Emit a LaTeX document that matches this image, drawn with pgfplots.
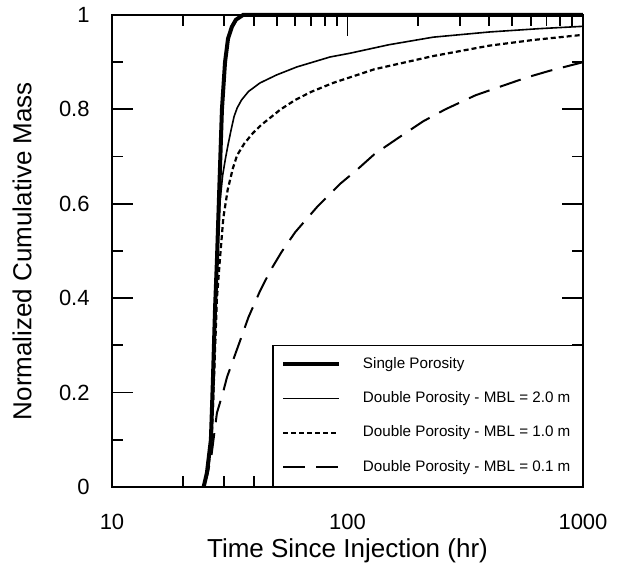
\documentclass[border=0pt]{standalone}
\usepackage{fontspec}
\setmainfont{Liberation Sans}
\usepackage{pgfplots}
\pgfplotsset{compat=1.18}

\begin{document}
\begin{tikzpicture}
\begin{axis}[
    at={(0pt,0pt)}, anchor=south west,
    width=235.5pt, height=236pt, scale only axis,
    xmode=log, xmin=10, xmax=1000, ymin=0, ymax=1,
    xtick={10,100,1000}, xticklabels={10,100,1000},
    minor xtick={20,30,40,50,60,70,80,90,200,300,400,500,600,700,800,900},
    ytick={0,0.2,0.4,0.6,0.8,1}, yticklabels={0,0.2,0.4,0.6,0.8,1},
    minor ytick={0.1,0.3,0.5,0.7,0.9},
    tick align=inside,
    major tick length=10.5pt, minor tick length=5.5pt,
    axis line style={line width=1pt},
    every tick/.style={black, line width=0.9pt},
    tick label style={font=\fontsize{11}{13}\selectfont, inner sep=0pt},
    xticklabel style={anchor=center, yshift=-17.5pt},
    yticklabel style={anchor=east, xshift=-11pt},
    /pgf/number format/assume math mode=true,
    xlabel={Time Since Injection (hr)},
    ylabel={Normalized Cumulative Mass},
    label style={font=\fontsize{13}{15}\selectfont},
    xlabel style={at={(axis description cs:0.5,-0.1356)}, anchor=center},
    ylabel style={at={(axis description cs:-0.191,0.5)}, anchor=center, rotate=0},
    clip=false,
    legend style={at={(rel axis cs:1,0)}, anchor=south east, draw=black,
        line width=0.6pt, font=\fontsize{7.6}{9}\selectfont,
        cells={anchor=west}, row sep=6.2pt, column sep=9pt,
        inner xsep=4pt, inner ysep=4pt},
    legend image code/.code={\draw[#1] (0pt,0pt) -- (28pt,0pt);},
]
\addplot[black, line width=2pt] coordinates {
    (24.5,0) (25.3,0.03) (26.3,0.1) (26.8,0.22) (27.4,0.38) (27.9,0.48)
    (28.5,0.62) (29.3,0.8) (30.2,0.9) (31.1,0.95) (32.3,0.975) (33.6,0.99)
    (36,1) (1000,1)
};
\addlegendentry{Single Porosity}
\addplot[black, line width=0.8pt] coordinates {
    (24.5,0) (25.3,0.03) (26.3,0.1) (26.9,0.22) (27.5,0.38) (28.1,0.5)
    (28.7,0.6) (29.5,0.66) (30.3,0.695) (31.1,0.725) (32,0.755) (33,0.785)
    (34,0.803) (35.5,0.82) (38,0.838) (42.5,0.856) (50,0.873) (61,0.89)
    (84.3,0.911) (102.5,0.919) (150,0.937) (231,0.953) (400,0.964)
    (650,0.971) (1000,0.976)
};
\addlegendentry{Double Porosity - MBL = 2.0 m}
\addplot[black, line width=1.1pt, dash pattern=on 2.5pt off 1.5pt] coordinates {
    (24.5,0) (25.5,0.03) (26.5,0.1) (27.2,0.25) (27.9,0.4) (28.7,0.48)
    (29.7,0.57) (31,0.63) (32.6,0.675) (34,0.703) (36.5,0.728) (39.7,0.75)
    (43,0.767) (46.9,0.782) (52,0.8) (60,0.82) (70,0.837) (86.8,0.856)
    (130,0.885) (231,0.913) (400,0.935) (613,0.947) (1000,0.958)
};
\addlegendentry{Double Porosity - MBL = 1.0 m}
\addplot[black, line width=1pt, dash pattern=on 11pt off 5.5pt] coordinates {
    (24.5,0) (25.5,0.03) (26.5,0.07) (27.9,0.157) (29.6,0.2) (30.8,0.233)
    (35,0.31) (38,0.36) (42.5,0.415) (47,0.458) (52.5,0.498) (60,0.54)
    (74.2,0.593) (92.9,0.642) (109.7,0.672) (130,0.705) (167,0.742)
    (210,0.775) (260,0.8) (350,0.83) (444,0.848) (580,0.868) (724,0.882)
    (1000,0.9)
};
\addlegendentry{Double Porosity - MBL = 0.1 m}
\end{axis}
\path (-56pt,-45pt) rectangle (255.5pt,243.5pt);
\end{tikzpicture}
\end{document}
